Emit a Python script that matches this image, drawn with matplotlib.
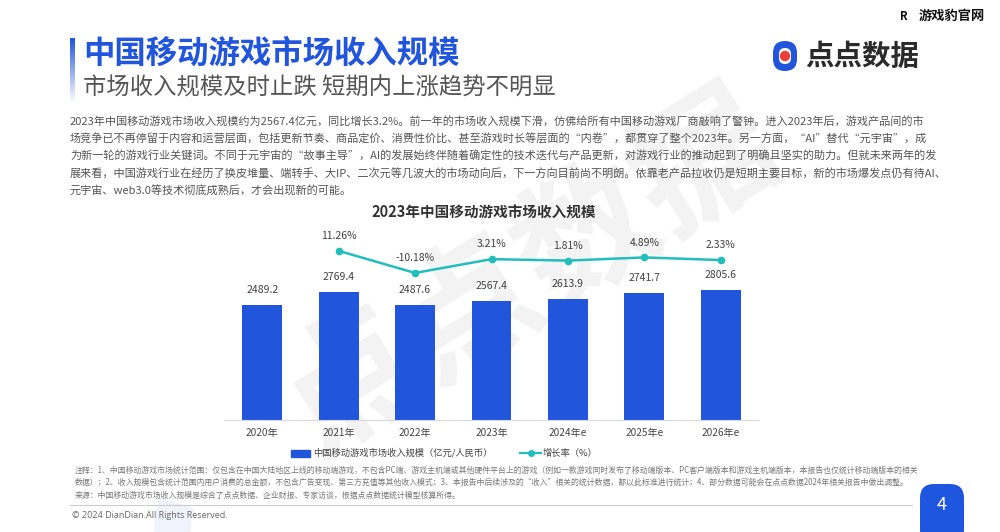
import numpy as np
import matplotlib
matplotlib.use("Agg")
import matplotlib.pyplot as plt
from matplotlib.patches import Rectangle, FancyBboxPatch, Circle, Wedge
from matplotlib.lines import Line2D

plt.rcParams['font.family'] = ['Noto Sans CJK SC', 'DejaVu Sans']

# data
years = ['2020年', '2021年', '2022年', '2023年', '2024年e', '2025年e', '2026年e']
revenue = [2489.2, 2769.4, 2487.6, 2567.4, 2613.9, 2741.7, 2805.6]
growth_years = [1, 2, 3, 4, 5, 6]
growth = [11.26, -10.18, 3.21, 1.81, 4.89, 2.33]

title = '中国移动游戏市场收入规模'
subtitle = '市场收入规模及时止跌 短期内上涨趋势不明显'
chart_title = '2023年中国移动游戏市场收入规模'
paragraph = [
    '2023年中国移动游戏市场收入规模约为2567.4亿元，同比增长3.2%。前一年的市场收入规模下滑，仿佛给所有中国移动游戏厂商敲响了警钟。进入2023年后，游戏产品间的市',
    '场竞争已不再停留于内容和运营层面，包括更新节奏、商品定价、消费性价比、甚至游戏时长等层面的“内卷”，都贯穿了整个2023年。另一方面，“AI”替代“元宇宙”，成',
    '为新一轮的游戏行业关键词。不同于元宇宙的“故事主导”，AI的发展始终伴随着确定性的技术迭代与产品更新，对游戏行业的推动起到了明确且坚实的助力。但就未来两年的发',
    '展来看，中国游戏行业在经历了换皮堆量、端转手、大IP、二次元等几波大的市场动向后，下一方向目前尚不明朗。依靠老产品拉收仍是短期主要目标，新的市场爆发点仍有待AI、',
    '元宇宙、web3.0等技术彻底成熟后，才会出现新的可能。',
]
notes = [
    '注释：1、中国移动游戏市场统计范围：仅包含在中国大陆地区上线的移动端游戏，不包含PC端、游戏主机端或其他硬件平台上的游戏（例如一款游戏同时发布了移动端版本、PC客户端版本和游戏主机端版本，本报告也仅统计移动端版本的相关',
    '数据）；2、收入规模包含统计范围内用户消费的总金额，不包含广告变现、第三方充值等其他收入模式；3、本报告中后续涉及的“收入”相关的统计数据，都以此标准进行统计；4、部分数据可能会在点点数据2024年相关报告中做出调整。',
    '来源：中国移动游戏市场收入规模是综合了点点数据、企业财报、专家访谈，根据点点数据统计模型核算所得。',
]

BLUE = '#2155dc'
TEAL = '#22bdbd'
W, H = 1000, 532

fig = plt.figure(figsize=(10, 5.32), dpi=100)
fig.patch.set_facecolor('white')

# background / decoration axes in pixel coordinates
bg = fig.add_axes([0, 0, 1, 1])
bg.set_xlim(0, W)
bg.set_ylim(H, 0)
bg.axis('off')

# watermark
bg.text(530, 275, '点点数据', fontsize=100, fontweight='bold', color='#f3f3f3',
        rotation=32, ha='center', va='center', zorder=0)
bg.add_patch(Wedge((250, 530), 95, 95, 200, width=35, color='#f0f3fc', zorder=0))

# header accent bar with gradient
grad = np.linspace(0, 1, 100).reshape(-1, 1)
bg.imshow(grad, extent=(70, 75, 103, 38), cmap=matplotlib.colors.LinearSegmentedColormap.from_list(
    'g', [BLUE, '#ffffff']), aspect='auto', zorder=2)
bg.text(83, 54, title, fontsize=22.6, fontweight='bold', color=BLUE, va='center', ha='left')
bg.text(83, 88, subtitle, fontsize=16.8, color='#555555', va='center', ha='left')

# logo
bg.add_patch(FancyBboxPatch((773, 41), 24, 30, boxstyle='round,pad=0,rounding_size=12',
                            fc=BLUE, ec='none', zorder=3))
bg.add_patch(FancyBboxPatch((779, 48), 12, 16, boxstyle='round,pad=0,rounding_size=6',
                            fc='white', ec='none', zorder=4))
bg.add_patch(Circle((785, 56), 4.5, color='#e8413a', zorder=5))
bg.text(805, 57, '点点数据', fontsize=20.5, fontweight='bold', color='#2a2a2a', va='center', ha='left')

# top-right mark
bg.text(904, 16, 'R', fontsize=8, fontweight='bold', color='#111111', va='center', ha='center')
bg.text(919, 16, '游戏豹官网', fontsize=9.5, fontweight='bold', color='#111111', va='center', ha='left')

# paragraph
for i, line in enumerate(paragraph):
    bg.text(70, 121 + i * 17.6, line, fontsize=8.0, color='#555555', va='center', ha='left')

# footnotes
for i, line in enumerate(notes):
    bg.text(75, 470 + i * 12.5, line, fontsize=5.7, color='#777777', va='center', ha='left')
bg.plot([70, 912], [505, 505], color='#cccccc', lw=0.8)
bg.text(72, 516, '© 2024 DianDian.All Rights Reserved.', fontsize=6.5, color='#666666',
        va='center', ha='left', family=['Open Sans', 'DejaVu Sans'])

# page number box
bg.add_patch(FancyBboxPatch((920, 484), 44, 60, boxstyle='round,pad=0,rounding_size=14',
                            fc='#1f56e0', ec='none', zorder=3))
bg.text(942, 505, '4', fontsize=13, color='white', style='italic', va='center', ha='center', zorder=4)

# chart title
bg.text(484, 213, chart_title, fontsize=10.5, fontweight='bold', color='#333333', va='center', ha='center')

# legend
bg.add_patch(Rectangle((291, 449.5), 19, 7, color=BLUE))
bg.text(313, 453, '中国移动游戏市场收入规模（亿元/人民币）', fontsize=6.7, color='#444444', va='center', ha='left')
bg.add_line(Line2D([520, 541], [453, 453], color=TEAL, lw=1.6))
bg.add_line(Line2D([530.5], [453], color=TEAL, marker='o', markersize=4))
bg.text(543, 453, '增长率（%）', fontsize=6.7, color='#444444', va='center', ha='left')

# main chart
ax_l, ax_r, ax_b, ax_t = 224, 759, 420, 230
ax = fig.add_axes([ax_l / W, 1 - ax_b / H, (ax_r - ax_l) / W, (ax_b - ax_t) / H])
ax.set_facecolor('none')
x = np.arange(len(years))
ax.bar(x, revenue, width=0.52, color=BLUE, zorder=2)
ax.set_xlim(-0.5, len(years) - 0.5)
ax.set_ylim(0, 4100)
for xi, v in zip(x, revenue):
    ax.annotate(f'{v:.1f}', (xi, v), xytext=(0, 7), textcoords='offset points',
                ha='center', va='bottom', fontsize=7.5, color='#404040')
ax.set_xticks(x)
ax.set_xticklabels(years, fontsize=7.3, color='#444444')
ax.tick_params(axis='x', length=0, pad=6)
ax.set_yticks([])
for s in ['top', 'left', 'right']:
    ax.spines[s].set_visible(False)
ax.spines['bottom'].set_color('#d9d9d9')

ax2 = ax.twinx()
ax2.set_facecolor('none')
ax2.plot(growth_years, growth, color=TEAL, lw=1.8, marker='o', markersize=4.5, zorder=3)
ax2.set_ylim(-152.9, 31.5)
for xi, g in zip(growth_years, growth):
    ax2.annotate(f'{g:.2f}%', (xi, g), xytext=(0, 7), textcoords='offset points',
                 ha='center', va='bottom', fontsize=7.5, color='#404040')
ax2.set_yticks([])
for s in ['top', 'left', 'right', 'bottom']:
    ax2.spines[s].set_visible(False)

fig.savefig('out.png', dpi=100)
